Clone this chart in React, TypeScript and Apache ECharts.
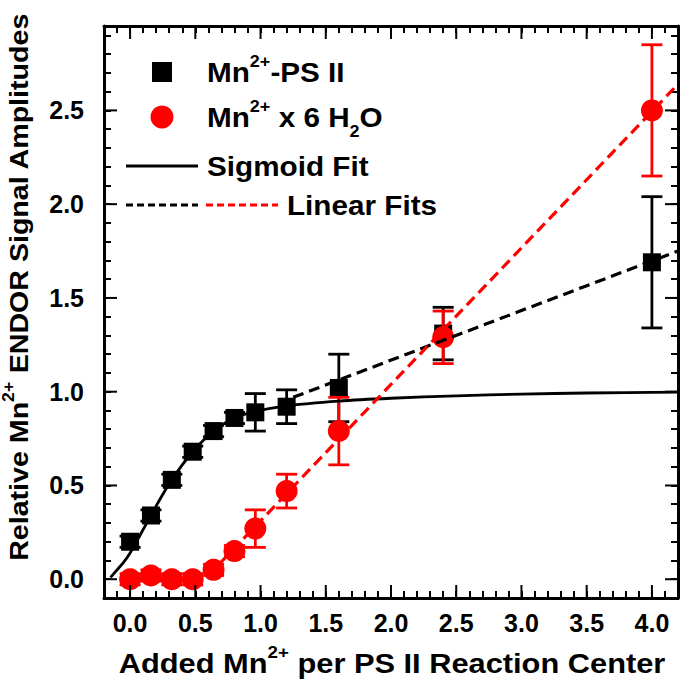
import React, { useEffect, useRef } from 'react';
import * as echarts from 'echarts';

// ---- data ----
const xValues = [0, 0.16, 0.32, 0.48, 0.64, 0.8, 0.96, 1.2, 1.6, 2.4, 4.0];
const psIIValues = [0.2, 0.34, 0.53, 0.68, 0.79, 0.86, 0.89, 0.92, 1.02, 1.31, 1.69];
const psIIErrors = [0.03, 0.03, 0.03, 0.03, 0.03, 0.03, 0.1, 0.09, 0.18, 0.14, 0.35];
const waterValues = [0.0, 0.02, 0.0, 0.0, 0.05, 0.15, 0.27, 0.47, 0.79, 1.29, 2.5];
const waterErrors = [0.03, 0.03, 0.03, 0.03, 0.03, 0.03, 0.1, 0.09, 0.18, 0.14, 0.35];

const sigmoidX = [-0.15, -0.1, -0.05, 0, 0.08, 0.16, 0.24, 0.32, 0.4, 0.48, 0.56, 0.64, 0.72, 0.8, 0.96, 1.2, 1.6, 2.0, 2.5, 3.0, 3.5, 4.2];
const sigmoidY = [0.01, 0.05, 0.09, 0.14, 0.24, 0.34, 0.44, 0.53, 0.61, 0.68, 0.74, 0.79, 0.83, 0.86, 0.895, 0.925, 0.95, 0.965, 0.978, 0.987, 0.993, 0.998];

const psIIFitX = [1.25, 4.2];
const psIIFitY = [0.97, 1.75];
const waterFitX = [0.6, 4.2];
const waterFitY = [0.02, 2.64];

const xMajorTicks = [0, 0.5, 1, 1.5, 2, 2.5, 3, 3.5, 4];
const yMajorTicks = [0, 0.5, 1, 1.5, 2, 2.5];

const X_MIN = -0.2;
const X_MAX = 4.2;
const Y_MIN = -0.1;
const Y_MAX = 2.95;

const FONT = '"Liberation Sans", Arial, sans-serif';
const BLACK = '#000000';
const RED = '#ff0000';
const MAJOR_LEN = 13;

function fmtTick(v: number): string {
  const r = Math.round(v * 10) / 10;
  if (Math.abs(v - r) > 1e-6) return '';
  if (Math.abs(r * 2 - Math.round(r * 2)) > 1e-6) return '';
  return (r === 0 ? 0 : r).toFixed(1);
}

function zip(xs: number[], ys: number[]) {
  return xs.map((x, i) => [x, ys[i]]);
}

function errorBarSeries(name: string, ys: number[], errs: number[], color: string, z: number) {
  return {
    name,
    type: 'custom',
    z,
    dimensions: ['x', 'y', 'e'],
    encode: { x: 0, y: 1 },
    data: xValues.map((x, i) => [x, ys[i], errs[i]]),
    renderItem: (params: any, api: any) => {
      const x = api.value(0);
      const y = api.value(1);
      const e = api.value(2);
      const top = api.coord([x, y + e]);
      const bot = api.coord([x, y - e]);
      const hw = 10.5;
      const st = { stroke: color, lineWidth: 2.8 };
      return {
        type: 'group',
        children: [
          { type: 'line', shape: { x1: top[0], y1: top[1], x2: bot[0], y2: bot[1] }, style: st },
          { type: 'line', shape: { x1: top[0] - hw, y1: top[1], x2: top[0] + hw, y2: top[1] }, style: st },
          { type: 'line', shape: { x1: bot[0] - hw, y1: bot[1], x2: bot[0] + hw, y2: bot[1] }, style: st },
        ],
      };
    },
  };
}

const richBase = (size: number, weight: string) => ({
  n: { fontSize: size, fontWeight: weight, fontFamily: FONT, fill: BLACK, verticalAlign: 'middle', lineHeight: size },
  s: { fontSize: Math.round(size * 0.6), fontWeight: weight, fontFamily: FONT, fill: BLACK, verticalAlign: 'middle', padding: [0, 0, Math.round(size * 0.8), 0] },
  b: { fontSize: Math.round(size * 0.6), fontWeight: weight, fontFamily: FONT, fill: BLACK, verticalAlign: 'middle', padding: [Math.round(size * 1.05), 0, 0, 0] },
});

export default function App() {
  const ref = useRef<HTMLDivElement>(null);

  useEffect(() => {
    if (!ref.current) return;
    const chart = echarts.init(ref.current, undefined, { renderer: 'svg' });

    const axisLine = { show: true, onZero: false, lineStyle: { color: BLACK, width: 3 } };
    const axisTick = { show: true, inside: true, length: 7, lineStyle: { color: BLACK, width: 2 } };
    const labelStyle = { fontSize: 25, fontWeight: 'bold', color: BLACK, fontFamily: FONT };

    const xBase = { type: 'value', min: X_MIN, max: X_MAX, interval: 0.1, axisLine, axisTick, splitLine: { show: false } };
    const yBase = { type: 'value', min: Y_MIN, max: Y_MAX, interval: 0.1, axisLine, axisTick, splitLine: { show: false } };

    const legendRich = richBase(28, 'bold');

    const option: any = {
      animation: false,
      backgroundColor: '#ffffff',
      grid: { left: 104, right: 3, top: 26, bottom: 83, containLabel: false },
      xAxis: [
        { ...xBase, position: 'bottom', axisLabel: { ...labelStyle, formatter: fmtTick, margin: 12 } },
        { ...xBase, position: 'top', axisLabel: { show: false } },
      ],
      yAxis: [
        { ...yBase, position: 'left', axisLabel: { ...labelStyle, formatter: fmtTick, margin: 20 } },
        { ...yBase, position: 'right', axisLabel: { show: false } },
      ],
      series: [
        errorBarSeries('PSII errors', psIIValues, psIIErrors, BLACK, 2),
        {
          name: 'Mn2+-PS II', type: 'scatter', z: 2, symbol: 'rect', symbolSize: 18,
          itemStyle: { color: BLACK, opacity: 1 }, data: zip(xValues, psIIValues),
        },
        errorBarSeries('Water errors', waterValues, waterErrors, RED, 3),
        {
          name: 'Mn2+ x 6 H2O', type: 'scatter', z: 3, symbol: 'circle', symbolSize: 22,
          itemStyle: { color: RED, opacity: 1 }, data: zip(xValues, waterValues),
        },
        {
          name: 'Sigmoid Fit', type: 'line', z: 4, smooth: 0.3, showSymbol: false, symbol: 'none',
          lineStyle: { color: BLACK, width: 2.8 }, data: zip(sigmoidX, sigmoidY),
        },
        {
          name: 'Linear Fit PS II', type: 'line', z: 4, showSymbol: false, symbol: 'none',
          lineStyle: { color: BLACK, width: 3.2, type: [11, 6] }, data: zip(psIIFitX, psIIFitY),
        },
        {
          name: 'Linear Fit H2O', type: 'line', z: 4, showSymbol: false, symbol: 'none',
          lineStyle: { color: RED, width: 3.2, type: [11, 6] }, data: zip(waterFitX, waterFitY),
        },
        {
          name: 'x major ticks', type: 'custom', z: 6, clip: false,
          encode: { x: 0, y: 1 },
          data: xMajorTicks.map((v) => [v, Y_MIN]),
          renderItem: (params: any, api: any) => {
            const v = api.value(0);
            const b = api.coord([v, Y_MIN]);
            const t = api.coord([v, Y_MAX]);
            const st = { stroke: BLACK, lineWidth: 2 };
            return {
              type: 'group',
              children: [
                { type: 'line', shape: { x1: b[0], y1: b[1], x2: b[0], y2: b[1] - MAJOR_LEN }, style: st },
                { type: 'line', shape: { x1: t[0], y1: t[1], x2: t[0], y2: t[1] + MAJOR_LEN }, style: st },
              ],
            };
          },
        },
        {
          name: 'y major ticks', type: 'custom', z: 6, clip: false,
          encode: { x: 0, y: 1 },
          data: yMajorTicks.map((v) => [X_MIN, v]),
          renderItem: (params: any, api: any) => {
            const v = api.value(1);
            const l = api.coord([X_MIN, v]);
            const r = api.coord([X_MAX, v]);
            const st = { stroke: BLACK, lineWidth: 2 };
            return {
              type: 'group',
              children: [
                { type: 'line', shape: { x1: l[0], y1: l[1], x2: l[0] + MAJOR_LEN, y2: l[1] }, style: st },
                { type: 'line', shape: { x1: r[0], y1: r[1], x2: r[0] - MAJOR_LEN, y2: r[1] }, style: st },
              ],
            };
          },
        },
      ],
      graphic: [
        // legend
        { type: 'rect', shape: { x: 152, y: 62, width: 20, height: 20 }, style: { fill: BLACK } },
        { type: 'circle', shape: { cx: 162, cy: 117, r: 11.5 }, style: { fill: RED } },
        { type: 'line', shape: { x1: 126, y1: 166, x2: 198, y2: 166 }, style: { stroke: BLACK, lineWidth: 2.8 } },
        { type: 'line', shape: { x1: 126, y1: 205, x2: 198, y2: 205 }, style: { stroke: BLACK, lineWidth: 3, lineDash: [7, 4] } },
        { type: 'line', shape: { x1: 206, y1: 205, x2: 278, y2: 205 }, style: { stroke: RED, lineWidth: 3, lineDash: [7, 4] } },
        {
          type: 'text', x: 207, y: 72, scaleX: 1.06,
          style: { text: '{n|Mn}{s|2+}{n|-PS II}', rich: legendRich, align: 'left', verticalAlign: 'middle' },
        },
        {
          type: 'text', x: 207, y: 117, scaleX: 1.06,
          style: { text: '{n|Mn}{s|2+}{n| x 6 H}{b|2}{n|O}', rich: legendRich, align: 'left', verticalAlign: 'middle' },
        },
        {
          type: 'text', x: 207, y: 166, scaleX: 1.06,
          style: { text: '{n|Sigmoid Fit}', rich: legendRich, align: 'left', verticalAlign: 'middle' },
        },
        {
          type: 'text', x: 287, y: 205, scaleX: 1.06,
          style: { text: '{n|Linear Fits}', rich: legendRich, align: 'left', verticalAlign: 'middle' },
        },
        // axis titles
        {
          type: 'text', x: 392, y: 663, scaleX: 1.1,
          style: {
            text: '{n|Added Mn}{s|2+}{n| per PS II Reaction Center}',
            rich: richBase(28, 'bold'), align: 'center', verticalAlign: 'middle',
          },
        },
        {
          type: 'text', x: 19, y: 287, rotation: Math.PI / 2, scaleX: 1.1,
          style: {
            text: '{n|Relative Mn}{s|2+}{n| ENDOR Signal Amplitudes}',
            rich: richBase(26, 'bold'), align: 'center', verticalAlign: 'middle',
          },
        },
      ],
    };

    chart.setOption(option);
    return () => chart.dispose();
  }, []);

  return (
    <div
      ref={ref}
      style={{ position: 'fixed', left: 0, top: 0, width: 681, height: 681, background: '#fff' }}
    />
  );
}
